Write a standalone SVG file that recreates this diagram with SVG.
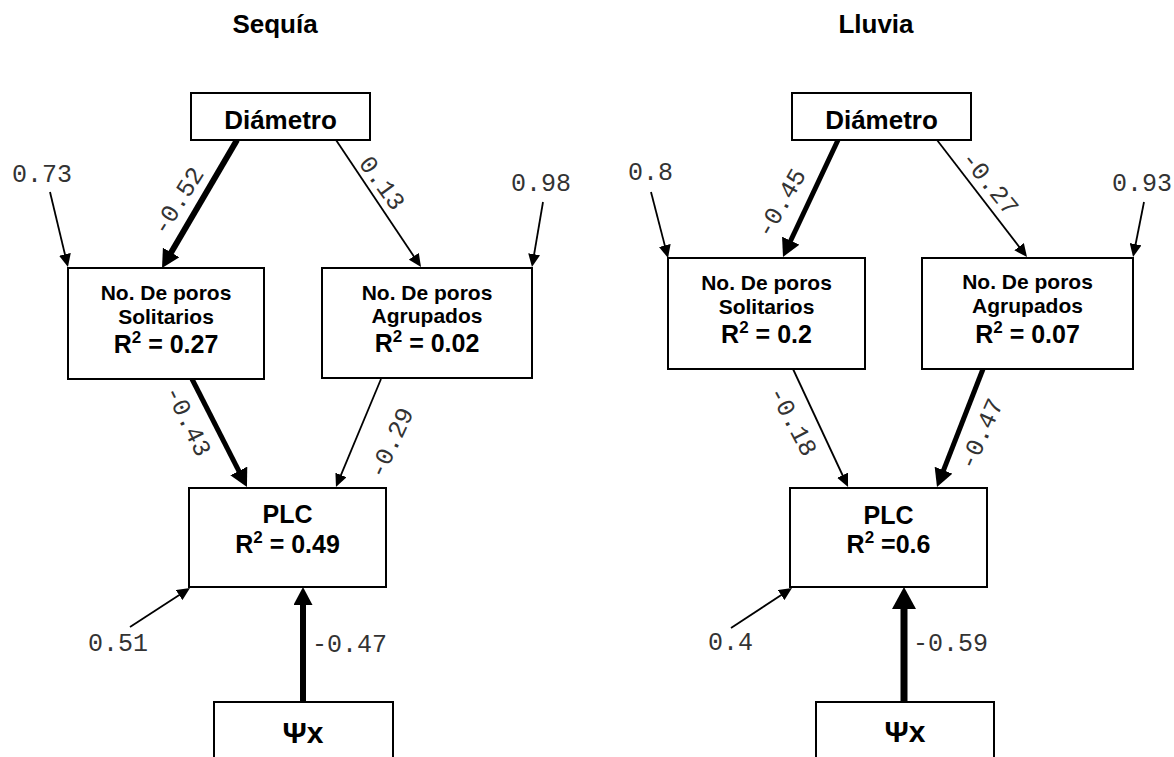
<svg xmlns="http://www.w3.org/2000/svg" width="1174" height="757" viewBox="0 0 1174 757">
<style>
.box{fill:#fff;stroke:#000;stroke-width:2}
.t{font-family:"Liberation Sans",Arial,sans-serif;font-weight:bold;fill:#000;text-anchor:middle}
.s{font-size:21px}
.r{font-size:25px}
.big{font-size:26px}
.psi{font-size:30px}
.n{font-family:"Liberation Mono","Courier New",monospace;font-size:25px;fill:#333}
.c{text-anchor:middle}
.thin{stroke:#000;stroke-width:1.8;fill:none;marker-end:url(#ah)}
.thick{stroke:#000;stroke-width:5.5;fill:none;marker-end:url(#ahT)}
.thick7{stroke:#000;stroke-width:7;fill:none;marker-end:url(#ahX)}
</style>
<defs>
<marker id="ah" markerUnits="userSpaceOnUse" viewBox="0 0 13 12" markerWidth="13" markerHeight="12" refX="2" refY="6" orient="auto"><path d="M0,0 L13,6 L0,12 z" fill="#000"/></marker>
<marker id="ahT" markerUnits="userSpaceOnUse" viewBox="0 0 18 19" markerWidth="18" markerHeight="19" refX="2" refY="9.5" orient="auto"><path d="M0,0 L18,9.5 L0,19 z" fill="#000"/></marker>
<marker id="ahX" markerUnits="userSpaceOnUse" viewBox="0 0 22 24" markerWidth="22" markerHeight="24" refX="2" refY="12" orient="auto"><path d="M0,0 L22,12 L0,24 z" fill="#000"/></marker>
</defs>
<rect width="1174" height="757" fill="#fff"/>
<text class="t big" x="275" y="33">Sequía</text>
<text class="t big" x="876" y="33">Lluvia</text>

<g id="connectors">
<line class="thick" x1="237" y1="140" x2="170.1" y2="254.2" style="stroke-width:6"/>
<line class="thin" x1="336" y1="140" x2="414.9" y2="257.9"/>
<line class="thin" x1="50" y1="192" x2="65.4" y2="256.3"/>
<line class="thin" x1="543" y1="202" x2="533.8" y2="256.2"/>
<line class="thick" x1="192" y1="379" x2="239.7" y2="472.7" style="stroke-width:5"/>
<line class="thin" x1="381" y1="379" x2="340.2" y2="476.8"/>
<line class="thin" x1="130" y1="627" x2="180.8" y2="594"/>
<line class="thick" x1="303" y1="702" x2="303" y2="603" style="stroke-width:6"/>

<line class="thick" x1="838" y1="140" x2="789.8" y2="242.5" style="stroke-width:5"/>
<line class="thin" x1="937" y1="140" x2="1020.3" y2="248.3"/>
<line class="thin" x1="651" y1="192" x2="665.3" y2="247.4"/>
<line class="thin" x1="1144" y1="202" x2="1135.2" y2="246.2"/>
<line class="thin" x1="793" y1="369" x2="843.4" y2="477"/>
<line class="thick" x1="983" y1="369" x2="942.8" y2="472.1" style="stroke-width:5"/>
<line class="thin" x1="731" y1="628" x2="782.8" y2="594"/>
<line class="thick7" x1="904" y1="702" x2="904" y2="607"/>

<text class="n c" transform="translate(178,201) rotate(-58)" y="8">-0.52</text>
<text class="n c" transform="translate(382,183) rotate(54)" y="8">0.13</text>
<text class="n c" transform="translate(188,421) rotate(64)" y="8">-0.43</text>
<text class="n c" transform="translate(391,443) rotate(-65)" y="8">-0.29</text>
<text class="n" x="12" y="182">0.73</text>
<text class="n" x="511" y="191">0.98</text>
<text class="n" x="88" y="651">0.51</text>
<text class="n" x="312" y="652">-0.47</text>

<text class="n c" transform="translate(781,203) rotate(-60)" y="8">-0.45</text>
<text class="n c" transform="translate(990,183) rotate(51)" y="8">-0.27</text>
<text class="n c" transform="translate(793,421) rotate(62)" y="8">-0.18</text>
<text class="n c" transform="translate(981,434) rotate(-66)" y="8">-0.47</text>
<text class="n" x="628" y="180">0.8</text>
<text class="n" x="1112" y="191">0.93</text>
<text class="n" x="708" y="650">0.4</text>
<text class="n" x="913" y="651">-0.59</text>
</g>

<g id="sequia-diametro">
<rect class="box" x="191" y="93" width="179" height="47"/>
<text class="t big" x="280.5" y="129">Diámetro</text>
</g>
<g id="sequia-solitarios">
<rect class="box" x="68" y="268" width="196" height="111"/>
<text class="t s" x="166" y="300">No. De poros</text>
<text class="t s" x="166" y="324">Solitarios</text>
<text class="t r" x="166" y="353">R<tspan font-size="17" dy="-10">2</tspan><tspan dy="10"> = 0.27</tspan></text>
</g>
<g id="sequia-agrupados">
<rect class="box" x="322" y="268" width="210" height="110"/>
<text class="t s" x="427" y="300">No. De poros</text>
<text class="t s" x="427" y="323">Agrupados</text>
<text class="t r" x="427" y="352">R<tspan font-size="17" dy="-10">2</tspan><tspan dy="10"> = 0.02</tspan></text>
</g>
<g id="sequia-plc">
<rect class="box" x="189" y="488" width="197" height="99"/>
<text class="t r" x="287.5" y="523">PLC</text>
<text class="t r" x="287.5" y="553">R<tspan font-size="17" dy="-10">2</tspan><tspan dy="10"> = 0.49</tspan></text>
</g>
<g id="sequia-psix">
<rect class="box" x="214" y="702" width="179" height="80"/>
<text class="t psi" x="303" y="743">Ψx</text>
</g>

<g id="lluvia-diametro">
<rect class="box" x="792" y="93" width="179" height="47"/>
<text class="t big" x="881.5" y="129">Diámetro</text>
</g>
<g id="lluvia-solitarios">
<rect class="box" x="668" y="258" width="197" height="111"/>
<text class="t s" x="766.5" y="290">No. De poros</text>
<text class="t s" x="766.5" y="314">Solitarios</text>
<text class="t r" x="766.5" y="343">R<tspan font-size="17" dy="-10">2</tspan><tspan dy="10"> = 0.2</tspan></text>
</g>
<g id="lluvia-agrupados">
<rect class="box" x="922" y="258" width="211" height="111"/>
<text class="t s" x="1027.5" y="289">No. De poros</text>
<text class="t s" x="1027.5" y="313">Agrupados</text>
<text class="t r" x="1027.5" y="343">R<tspan font-size="17" dy="-10">2</tspan><tspan dy="10"> = 0.07</tspan></text>
</g>
<g id="lluvia-plc">
<rect class="box" x="790" y="488" width="197" height="99"/>
<text class="t r" x="888.5" y="524">PLC</text>
<text class="t r" x="888.5" y="553">R<tspan font-size="17" dy="-10">2</tspan><tspan dy="10"> =0.6</tspan></text>
</g>
<g id="lluvia-psix">
<rect class="box" x="816" y="702" width="178" height="80"/>
<text class="t psi" x="905" y="742">Ψx</text>
</g>
</svg>
